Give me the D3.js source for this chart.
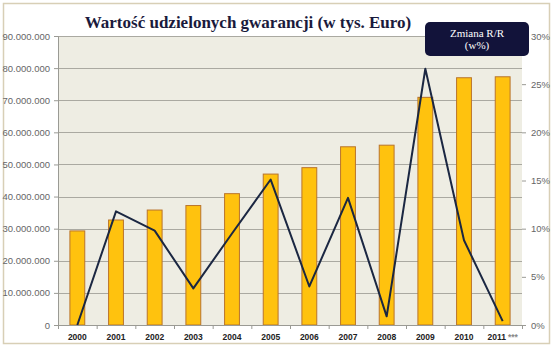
<!DOCTYPE html>
<html><head><meta charset="utf-8">
<script src="https://cdn.jsdelivr.net/npm/d3@7"></script>
<style>body{margin:0;background:#fff}svg{display:block}</style>
</head><body>
<svg id="c" width="553" height="349"></svg>
<script>
const years = ["2000","2001","2002","2003","2004","2005","2006","2007","2008","2009","2010","2011"];
const guarantees = [29300000,32700000,35800000,37200000,40900000,47000000,49000000,55500000,56000000,70900000,77000000,77300000];
const changePct = [0,11.8,9.8,3.8,9.5,15.1,4.0,13.2,0.9,26.6,8.8,0.4];
const leftTicks = [0,10000000,20000000,30000000,40000000,50000000,60000000,70000000,80000000,90000000];
const rightTicks = [0,5,10,15,20,25,30];
const title = "Wartość udzielonych gwarancji (w tys. Euro)";
const legendLines = ["Zmiana R/R","(w%)"];

const svg = d3.select("#c");
const m = {l:58, r:522, t:36, b:325};

svg.append("rect").attr("x",3.5).attr("y",3.5).attr("width",546).attr("height",340)
  .attr("fill","#fff").attr("stroke","#d8cfb6").attr("stroke-width",1.5);

const x = d3.scaleBand().domain(years).range([m.l,m.r]).paddingInner(0.59).paddingOuter(0.295);
const xb = d3.scaleBand().domain(years).range([m.l,m.r]);
const yL = d3.scaleLinear().domain([0,90000000]).range([m.b,m.t]);
const yR = d3.scaleLinear().domain([0,30]).range([m.b,m.t]);

svg.append("rect").attr("x",m.l).attr("y",m.t).attr("width",m.r-m.l).attr("height",m.b-m.t).attr("fill","#eeede3");

// gridlines
svg.append("g").selectAll("line").data(leftTicks.slice(1)).join("line")
  .attr("x1",m.l).attr("x2",m.r).attr("y1",d=>Math.round(yL(d))+0.5).attr("y2",d=>Math.round(yL(d))+0.5)
  .attr("stroke","#aaa9a1").attr("stroke-width",1);

const fmt = d => d3.format(",")(d).replace(/,/g,".");
const gl = svg.append("g").attr("transform",`translate(${m.l},0)`)
  .call(d3.axisLeft(yL).tickValues(leftTicks).tickFormat(fmt).tickSize(4).tickPadding(4));
gl.select(".domain").attr("stroke","#9a9a94");
gl.selectAll(".tick line").attr("stroke","#9a9a94");
gl.selectAll("text").attr("font-family","Liberation Sans, Arial, sans-serif").attr("font-size","9.5px").attr("fill","#666");

const gr = svg.append("g").attr("transform",`translate(${m.r},0)`)
  .call(d3.axisRight(yR).tickValues(rightTicks).tickFormat(d=>d+"%").tickSize(4).tickPadding(5));
gr.select(".domain").remove();
gr.selectAll(".tick line").attr("stroke","#9a9a94");
gr.selectAll("text").attr("font-family","Liberation Sans, Arial, sans-serif").attr("font-size","9.5px").attr("fill","#666");

// bars
svg.append("g").selectAll("rect").data(years).join("rect")
  .attr("x",(d)=>x(d)+0.5).attr("width",x.bandwidth()-1)
  .attr("y",(d,i)=>yL(guarantees[i])).attr("height",(d,i)=>m.b-yL(guarantees[i]))
  .attr("fill","#ffc20e").attr("stroke","#b9742c").attr("stroke-width",1);

// x axis
const gx = svg.append("g").attr("transform",`translate(0,${m.b})`)
  .call(d3.axisBottom(xb).tickSize(0).tickPadding(9));
gx.select(".domain").attr("stroke","#9a9a94").attr("d",`M${m.l},0.5H${m.r+4}`);
gx.selectAll("text").attr("font-family","Liberation Sans, Arial, sans-serif").attr("font-size","8.5px").attr("font-weight","bold").attr("fill","#222");
gx.selectAll(".tick").filter(d=>d==="2011").select("text").text(null)
  .call(t=>{t.append("tspan").text("2011");t.append("tspan").attr("fill","#888").attr("dx",2).text("***");});
svg.append("g").selectAll("line").data(years.concat(["end"])).join("line")
  .attr("x1",(d,i)=>m.l+i*xb.bandwidth()+0.5).attr("x2",(d,i)=>m.l+i*xb.bandwidth()+0.5)
  .attr("y1",m.b).attr("y2",m.b+4).attr("stroke","#9a9a94");

// line
svg.append("path").datum(changePct)
  .attr("d",d3.line().x((d,i)=>xb(years[i])+xb.bandwidth()/2).y(d=>yR(d)))
  .attr("fill","none").attr("stroke","#1b2742").attr("stroke-width",2).attr("stroke-linejoin","round");

// title
svg.append("text").attr("x",248).attr("y",28).attr("text-anchor","middle")
  .attr("font-family","Liberation Serif, Times New Roman, serif").attr("font-size","17px").attr("font-weight","bold")
  .attr("fill","#1a1a3c").text(title);

// legend box
svg.append("rect").attr("x",425).attr("y",22).attr("width",104).attr("height",34).attr("rx",5)
  .attr("fill","#12133a");
svg.append("g").selectAll("text").data(legendLines).join("text")
  .attr("x",477).attr("y",(d,i)=>37+i*12).attr("text-anchor","middle")
  .attr("font-family","Liberation Serif, Times New Roman, serif").attr("font-size","11px")
  .attr("fill","#fff").text(d=>d);
</script>
</body></html>
